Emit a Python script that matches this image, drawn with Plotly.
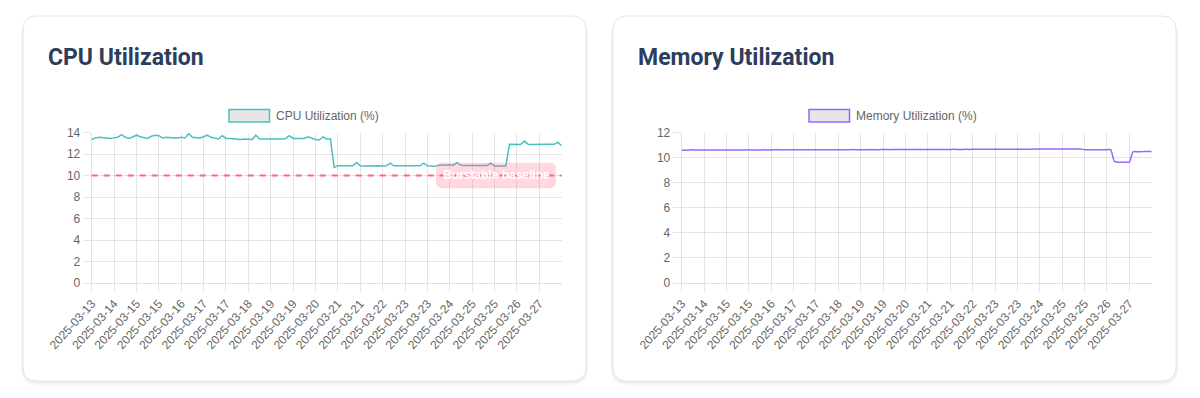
import plotly.graph_objects as go

W, H = 1200, 398

# ---------------- data ----------------
tick_labels = ["2025-03-13", "2025-03-14", "2025-03-15", "2025-03-15", "2025-03-16",
               "2025-03-17", "2025-03-17", "2025-03-18", "2025-03-19", "2025-03-19",
               "2025-03-20", "2025-03-21", "2025-03-21", "2025-03-22", "2025-03-23",
               "2025-03-23", "2025-03-24", "2025-03-25", "2025-03-25", "2025-03-26",
               "2025-03-27"]
label_step = 6  # one date label shown every 6 samples

cpu_util = [
    13.35, 13.5, 13.55, 13.5, 13.5, 13.45, 13.5, 13.55, 13.8, 13.55,
    13.45, 13.6, 13.75, 13.6, 13.5, 13.45, 13.65, 13.75, 13.7, 13.5,
    13.55, 13.5, 13.5, 13.5, 13.55, 13.5, 13.9, 13.55, 13.5, 13.5,
    13.6, 13.75, 13.55, 13.45, 13.4, 13.7, 13.45, 13.45, 13.4, 13.4,
    13.35, 13.4, 13.35, 13.35, 13.75, 13.4, 13.4, 13.4, 13.35, 13.4,
    13.4, 13.4, 13.45, 13.7, 13.45, 13.45, 13.4, 13.45, 13.6, 13.45,
    13.35, 13.3, 13.6, 13.4, 13.4, 10.75, 10.9, 10.9, 10.88, 10.9,
    10.9, 11.2, 10.9, 10.88, 10.9, 10.9, 10.92, 10.9, 10.88, 10.9,
    11.15, 10.9, 10.9, 10.88, 10.9, 10.9, 10.9, 10.92, 10.9, 11.15,
    10.9, 10.88, 10.85, 10.95, 10.98, 10.98, 10.97, 10.98, 11.2, 10.95,
    10.93, 10.93, 10.92, 10.93, 10.93, 10.92, 10.93, 11.15, 10.88, 10.88,
    10.88, 10.88, 12.9, 12.9, 12.85, 12.88, 13.2, 12.9, 12.88, 12.9,
    12.9, 12.92, 12.9, 12.9, 12.9, 13.1, 12.75,
]

mem_util = [
    10.58, 10.58, 10.6, 10.62, 10.6, 10.6, 10.6, 10.6, 10.6, 10.6,
    10.61, 10.6, 10.6, 10.6, 10.61, 10.6, 10.6, 10.61, 10.62, 10.61,
    10.61, 10.61, 10.62, 10.61, 10.61, 10.62, 10.62, 10.61, 10.62, 10.62,
    10.62, 10.62, 10.63, 10.62, 10.62, 10.62, 10.63, 10.62, 10.62, 10.63,
    10.62, 10.63, 10.63, 10.62, 10.63, 10.63, 10.64, 10.63, 10.63, 10.63,
    10.63, 10.64, 10.63, 10.63, 10.64, 10.64, 10.63, 10.64, 10.64, 10.64,
    10.64, 10.64, 10.65, 10.64, 10.64, 10.65, 10.64, 10.65, 10.65, 10.65,
    10.65, 10.65, 10.65, 10.66, 10.65, 10.65, 10.66, 10.65, 10.66, 10.66,
    10.66, 10.66, 10.66, 10.66, 10.67, 10.66, 10.66, 10.67, 10.67, 10.67,
    10.67, 10.67, 10.67, 10.67, 10.68, 10.67, 10.68, 10.68, 10.68, 10.68,
    10.68, 10.68, 10.68, 10.68, 10.68, 10.68, 10.68, 10.68, 10.63, 10.63,
    10.63, 10.63, 10.63, 10.63, 10.63, 10.63, 9.7, 9.63, 9.63, 9.63,
    9.63, 10.46, 10.47, 10.47, 10.48, 10.48, 10.48,
]

baseline_value = 10
baseline_label = "Burstable baseline"

# ---------------- helpers ----------------
def px(x):
    return x / W


def py(y):
    return 1 - y / H


def rounded_rect(x0, y0, x1, y1, r):
    rx, ry = r / W, r / H
    X0, X1 = px(x0), px(x1)
    Y0, Y1 = py(y0), py(y1)  # Y0 top, Y1 bottom (paper)
    return (f"M {X0+rx},{Y0} L {X1-rx},{Y0} Q {X1},{Y0} {X1},{Y0-ry} "
            f"L {X1},{Y1+ry} Q {X1},{Y1} {X1-rx},{Y1} L {X0+rx},{Y1} "
            f"Q {X0},{Y1} {X0},{Y1+ry} L {X0},{Y0-ry} Q {X0},{Y0} {X0+rx},{Y0} Z")


TICK_FONT = dict(family="Liberation Sans, Arial, Helvetica, sans-serif", size=12, color="#666666")
GRID = "rgba(0,0,0,0.1)"
CPU_COLOR = "rgb(75,192,192)"
MEM_COLOR = "rgb(153,102,255)"
TITLE_FONT = dict(family="Roboto, Inter, sans-serif", size=23, color="#2c3e5c")

n = len(cpu_util)
xs = list(range(n))
tickvals = [i * label_step for i in range(len(tick_labels))]

fig = go.Figure()
fig.add_trace(go.Scatter(x=xs, y=cpu_util, mode="lines", name="CPU Utilization (%)",
                         line=dict(color=CPU_COLOR, width=1.5), xaxis="x", yaxis="y",
                         hoverinfo="skip"))
fig.add_trace(go.Scatter(x=list(range(len(mem_util))), y=mem_util, mode="lines",
                         name="Memory Utilization (%)",
                         line=dict(color=MEM_COLOR, width=1.5, shape="spline", smoothing=0.5),
                         xaxis="x2", yaxis="y2", hoverinfo="skip"))

ydom = [py(283), py(132.5)]
common_x = dict(tickmode="array", tickvals=tickvals, ticktext=tick_labels, tickangle=-48,
                showgrid=True, gridcolor=GRID, ticks="outside", ticklen=8, tickcolor=GRID,
                showline=True, linecolor="rgba(0,0,0,0.12)", zeroline=False,
                tickfont=TICK_FONT, fixedrange=True, automargin=False)
common_y = dict(showgrid=True, gridcolor=GRID, ticks="outside", ticklen=8, tickcolor=GRID,
                showline=True, linecolor="rgba(0,0,0,0.12)", zeroline=False, dtick=2,
                tickfont=TICK_FONT, fixedrange=True, domain=ydom, automargin=False)

fig.update_layout(
    width=W, height=H, margin=dict(l=0, r=0, t=0, b=0, pad=0, autoexpand=False),
    paper_bgcolor="white", plot_bgcolor="rgba(0,0,0,0)", showlegend=False,
    xaxis=dict(domain=[px(91.7), px(561.7)], range=[0, n - 1], anchor="y", **common_x),
    yaxis=dict(range=[0, 14], anchor="x", **common_y),
    xaxis2=dict(domain=[px(681.7), px(1151.7)], range=[0, len(mem_util) - 1], anchor="y2", **common_x),
    yaxis2=dict(range=[0, 12], anchor="x2", **common_y),
)

shapes = []
# cards with soft shadow
for (cx0, cx1) in [(23, 586), (613, 1176)]:
    for k, op in [(6, 0.015), (4, 0.025), (2, 0.035)]:
        shapes.append(dict(type="path", xref="paper", yref="paper", layer="below",
                           path=rounded_rect(cx0 - k / 2, 16 + 2, cx1 + k / 2, 381 + k, 14 + k),
                           fillcolor=f"rgba(0,0,0,{op})", line=dict(width=0)))
    shapes.append(dict(type="path", xref="paper", yref="paper", layer="below",
                       path=rounded_rect(cx0, 16, cx1, 381, 14),
                       fillcolor="white", line=dict(color="#e2e6ec", width=1)))

# legend boxes
for (bx0, bx1, col) in [(229, 269.5, CPU_COLOR), (809, 849.5, MEM_COLOR)]:
    shapes.append(dict(type="rect", xref="paper", yref="paper", layer="above",
                       x0=px(bx0), x1=px(bx1), y0=py(122), y1=py(109.5),
                       fillcolor="#e6e6e6", line=dict(color=col, width=1.5)))

# baseline
shapes.append(dict(type="line", xref="x domain", yref="y", x0=0, x1=1,
                   y0=baseline_value, y1=baseline_value, layer="above",
                   line=dict(color="rgb(255,99,132)", width=2, dash="6px,6px")))
shapes.append(dict(type="path", xref="paper", yref="paper", layer="above",
                   path=rounded_rect(436, 162.7, 556, 188.3, 6),
                   fillcolor="rgba(255,99,132,0.25)", line=dict(width=0)))
fig.update_layout(shapes=shapes)

annotations = [
    dict(text="<b>CPU Utilization</b>", x=px(46), y=py(58), xref="paper", yref="paper",
         xanchor="left", yanchor="middle", showarrow=False, font=TITLE_FONT),
    dict(text="<b>Memory Utilization</b>", x=px(636), y=py(58), xref="paper", yref="paper",
         xanchor="left", yanchor="middle", showarrow=False, font=TITLE_FONT),
    dict(text="CPU Utilization (%)", x=px(274), y=py(116), xref="paper", yref="paper",
         xanchor="left", yanchor="middle", showarrow=False, font=TICK_FONT),
    dict(text="Memory Utilization (%)", x=px(854), y=py(116), xref="paper", yref="paper",
         xanchor="left", yanchor="middle", showarrow=False, font=TICK_FONT),
    dict(text="<b>" + baseline_label + "</b>", x=px(496), y=py(175.5), xref="paper", yref="paper",
         xanchor="center", yanchor="middle", showarrow=False,
         font=dict(family="Liberation Sans, Arial, Helvetica, sans-serif", size=12, color="white")),
]
fig.update_layout(annotations=annotations)

fig.write_html("out.html", config={"displayModeBar": False, "staticPlot": True},
               post_script="document.body.style.margin='0';document.body.style.overflow='hidden';")
